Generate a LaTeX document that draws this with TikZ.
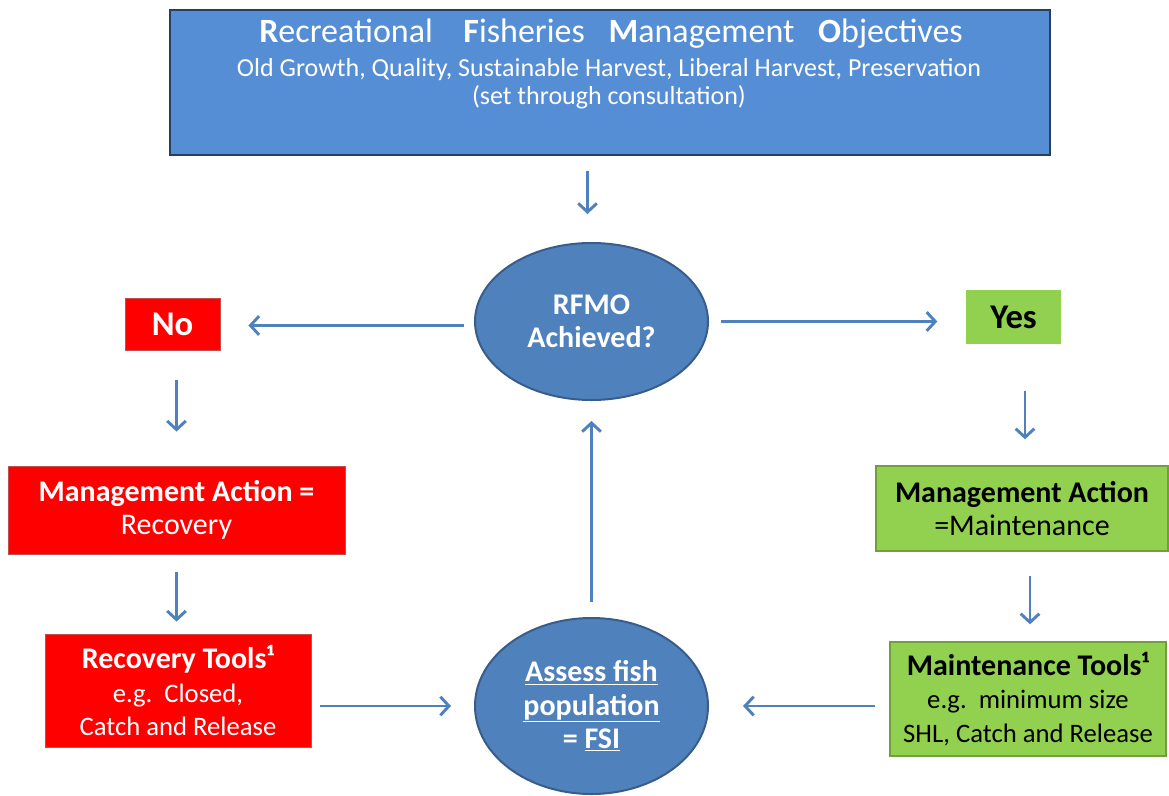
\documentclass[tikz,border=0pt]{standalone}
\usepackage{fontspec}
\setmainfont{Carlito}
\usetikzlibrary{arrows.meta,calc,shapes.geometric}

\definecolor{topblue}{HTML}{558ED5}
\definecolor{topedge}{HTML}{243F60}
\definecolor{ovalblue}{HTML}{4F81BD}
\definecolor{ovaledge}{HTML}{385D8A}
\definecolor{redfill}{HTML}{FF0000}
\definecolor{rededge}{HTML}{C0504D}
\definecolor{greenfill}{HTML}{92D050}
\definecolor{greenedge}{HTML}{71A03B}
\definecolor{arrowblue}{HTML}{4F81BD}

\newcommand{\boldline}[1]{{\fontsize{22.5}{26}\selectfont\bfseries #1}}

\tikzset{
  redbox/.style={rectangle, fill=redfill, draw=rededge, line width=0.6pt,
    text=white, align=center, inner sep=0pt,
    font=\fontsize{20}{25}\selectfont},
  greenbox/.style={rectangle, fill=greenfill, draw=greenedge, line width=1pt,
    text=black, align=center, inner sep=0pt,
    font=\fontsize{20}{25}\selectfont},
  actionfont/.style={font=\fontsize{22.5}{25}\selectfont},
  oval/.style={ellipse, fill=ovalblue, draw=ovaledge, line width=1.5pt,
    text=white, align=center, inner sep=0pt,
    font=\fontsize{22.5}{25}\selectfont\bfseries},
  flow/.style={draw=arrowblue, line width=2.2pt,
    -{Straight Barb[length=6.5pt,width=14pt]}},
}

\begin{document}
\begin{tikzpicture}[x=0.75pt,y=-0.75pt]
\useasboundingbox (0,0) rectangle (1169,795);

% objectives banner
\node[rectangle, fill=topblue, draw=topedge, line width=2pt,
      minimum width=660pt, minimum height=108.75pt, inner sep=0pt]
      (obj) at (610,82.5) {};
\node[anchor=base, text=white, inner sep=0pt, font=\fontsize{25.5}{30}\selectfont]
      (objtitle) at (611,43)
      {\textbf{R}ecreational\hspace{0.9em}\textbf{F}isheries\hspace{0.7em}\textbf{M}anagement\hspace{0.7em}\textbf{O}bjectives};
\node[anchor=base, text=white, inner sep=0pt, font=\fontsize{19.5}{22}\selectfont]
      (objlist) at (609,77)
      {Old Growth, Quality, Sustainable Harvest, Liberal Harvest, Preservation};
\node[anchor=base, text=white, inner sep=0pt, font=\fontsize{19.5}{22}\selectfont]
      (objnote) at (609,105)
      {(set through consultation)};

% decision and assessment ovals
\node[oval, minimum width=174.75pt, minimum height=117.75pt]
      (rfmo) at (591.5,321.5) {RFMO\\Achieved?};
\node[oval, minimum width=174.75pt, minimum height=132pt]
      (assess) at (591.5,706)
      {\underline{Assess fish}\\\underline{population}\\= \underline{FSI}};

% outcome labels
\node[redbox, minimum width=71.25pt, minimum height=39pt,
      font=\fontsize{26}{28}\selectfont\bfseries]
      (no) at (172.5,324) {No};
\node[greenbox, minimum width=71.25pt, minimum height=40.5pt, draw=none,
      font=\fontsize{26}{28}\selectfont\bfseries]
      (yes) at (1013.5,317) {Yes};

% recovery branch
\node[redbox, actionfont, minimum width=252.75pt, minimum height=66pt]
      (recact) at (176.5,510) {\textbf{Management Action =}\\Recovery};
\node[redbox, minimum width=199.5pt, minimum height=84.75pt]
      (rectools) at (178,690.5)
      {\boldline{Recovery Tools¹}\\e.g.\ \ Closed,\\Catch and Release};

% maintenance branch
\node[greenbox, actionfont, minimum width=219pt, minimum height=63.75pt]
      (mact) at (1022,508.5) {\textbf{Management Action}\\=Maintenance};
\node[greenbox, minimum width=207pt, minimum height=85.5pt]
      (mtools) at (1028,699)
      {\boldline{Maintenance Tools¹}\\e.g.\ \ minimum size\\SHL, Catch and Release};

% connectors
\draw[flow, shorten <=11.25pt, shorten >=21pt]
  ($(obj.south -| rfmo.north)+(-4,0)$) -- ($(rfmo.north)+(-4,0)$);
\draw[flow, shorten <=7.5pt, shorten >=21pt]
  ($(rfmo.west)+(0,4)$) -- ($(rfmo.west -| no.east)+(0,4)$);
\draw[flow, shorten <=9pt, shorten >=21pt]
  (rfmo.east) -- (rfmo.east -| yes.west);
\draw[flow, shorten <=22.5pt, shorten >=25.5pt]
  (no.south -| recact.north) -- (recact.north);
\draw[flow, shorten <=13.5pt, shorten >=9pt]
  (recact.south) -- (recact.south |- rectools.north);
\draw[flow, shorten <=6.75pt, shorten >=17.25pt]
  (assess.west -| rectools.east) -- (assess.west);
\draw[flow, shorten <=11.25pt, shorten >=15pt]
  (assess.north) -- (rfmo.south);
\draw[flow, shorten <=34.5pt, shorten >=19.5pt]
  ($(yes.south)+(11.5,0)$) -- ($(yes.south |- mact.north)+(11.5,0)$);
\draw[flow, shorten <=18pt, shorten >=12.75pt]
  ($(mact.south)+(8,0)$) -- ($(mact.south |- mtools.north)+(8,0)$);
\draw[flow, shorten <=10.5pt, shorten >=25.5pt]
  (assess.east -| mtools.west) -- (assess.east);
\end{tikzpicture}
\end{document}
